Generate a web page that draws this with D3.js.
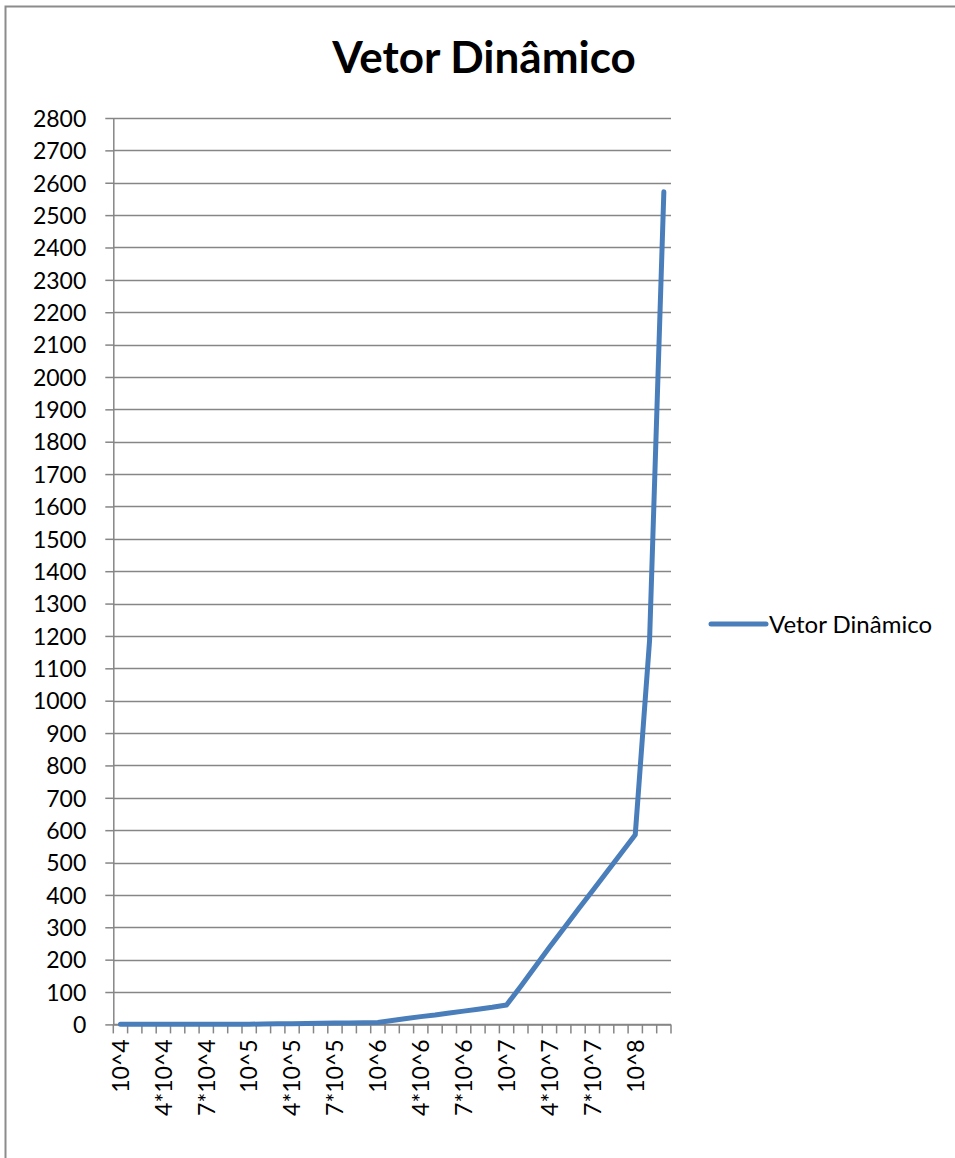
<!DOCTYPE html>
<html>
<head>
<meta charset="utf-8">
<script src="https://cdn.jsdelivr.net/npm/d3@7/dist/d3.min.js"></script>
<style>
  html, body { margin: 0; padding: 0; background: #fff; }
  svg { display: block; }
  text { font-family: Lato, "Open Sans", "Liberation Sans", sans-serif; fill: #000; }
</style>
</head>
<body>
<svg id="chart" width="955" height="1158"></svg>
<script>
// Input sizes (n) along the x axis
const categories = [
  "10^4", "2*10^4", "3*10^4", "4*10^4", "5*10^4", "6*10^4", "7*10^4", "8*10^4", "9*10^4",
  "10^5", "2*10^5", "3*10^5", "4*10^5", "5*10^5", "6*10^5", "7*10^5", "8*10^5", "9*10^5",
  "10^6", "2*10^6", "3*10^6", "4*10^6", "5*10^6", "6*10^6", "7*10^6", "8*10^6", "9*10^6",
  "10^7", "2*10^7", "3*10^7", "4*10^7", "5*10^7", "6*10^7", "7*10^7", "8*10^7", "9*10^7",
  "10^8", "2*10^8", "3*10^8"
];

// Measured times for the dynamic vector
const vetorDinamico = [
  0.1, 0.1, 0.2, 0.2, 0.3, 0.3, 0.4, 0.5, 0.5,
  0.6, 1.2, 1.8, 2.3, 2.9, 3.5, 4.1, 4.6, 5.2,
  5.8, 12, 18, 24, 29, 35, 41, 47, 53,
  60, 118, 178, 238, 296, 355, 412, 470, 528,
  586, 1185, 2572
];

// Category labels printed under the axis
const xTickLabels = ["10^4", "4*10^4", "7*10^4", "10^5", "4*10^5", "7*10^5", "10^6",
  "4*10^6", "7*10^6", "10^7", "4*10^7", "7*10^7", "10^8"];

// Value axis ticks
const yTicks = [0, 100, 200, 300, 400, 500, 600, 700, 800, 900, 1000, 1100, 1200, 1300,
  1400, 1500, 1600, 1700, 1800, 1900, 2000, 2100, 2200, 2300, 2400, 2500, 2600, 2700, 2800];

const title = "Vetor Dinâmico";
const seriesName = "Vetor Dinâmico";

const svg = d3.select("#chart");
const gridColor = "#868686";
const lineColor = "#4a7ebb";

// Outer chart frame (runs off the bottom/right of the page)
svg.append("rect")
  .attr("x", 5.5).attr("y", 6.5)
  .attr("width", 1000).attr("height", 1200)
  .attr("fill", "none").attr("stroke", "#8c8c8c").attr("stroke-width", 2);

const plot = { left: 113.3, right: 671, top: 118, bottom: 1024.4 };

const x = d3.scaleBand().domain(categories).range([plot.left, plot.right]).padding(0);
const y = d3.scaleLinear().domain([0, 2800]).range([plot.bottom, plot.top]);

// Horizontal gridlines
svg.append("g")
  .selectAll("line")
  .data(yTicks)
  .join("line")
  .attr("x1", plot.left).attr("x2", plot.right)
  .attr("y1", d => Math.round(y(d)) + 0.5).attr("y2", d => Math.round(y(d)) + 0.5)
  .attr("stroke", gridColor).attr("stroke-width", 1.5);

// Y axis
const yAxis = svg.append("g")
  .attr("transform", `translate(${plot.left},0)`)
  .call(d3.axisLeft(y).tickValues(yTicks).tickSize(8).tickPadding(19).tickFormat(d3.format("d")));
yAxis.select(".domain").attr("stroke", gridColor).attr("stroke-width", 1.5)
  .attr("d", `M0.5,${plot.top}V${plot.bottom}`);
yAxis.selectAll(".tick line").attr("stroke", gridColor).attr("stroke-width", 1.5);
yAxis.selectAll(".tick text")
  .attr("dy", "0.36em")
  .style("font-size", "23px")
  .style("font-family", "Lato, 'Open Sans', sans-serif")
  .attr("fill", "#000");

// X axis: baseline, band-boundary ticks and rotated labels
const xAxisG = svg.append("g").attr("transform", `translate(0,${plot.bottom})`);
xAxisG.append("line")
  .attr("x1", plot.left).attr("x2", plot.right)
  .attr("y1", 0.5).attr("y2", 0.5)
  .attr("stroke", gridColor).attr("stroke-width", 1.5);
const boundaries = categories.map(c => x(c)).concat([x.range()[1]]);
xAxisG.selectAll("line.tk")
  .data(boundaries)
  .join("line")
  .attr("class", "tk")
  .attr("x1", d => d).attr("x2", d => d)
  .attr("y1", 0).attr("y2", 9)
  .attr("stroke", gridColor).attr("stroke-width", 1.5);

const xAxis = d3.axisBottom(x).tickValues(xTickLabels).tickSize(0);
const xLab = svg.append("g")
  .attr("transform", `translate(0,${plot.bottom})`)
  .call(xAxis);
xLab.select(".domain").remove();
xLab.selectAll(".tick text")
  .attr("transform", "rotate(-90)")
  .attr("x", -15)
  .attr("y", 0)
  .attr("dy", "0.36em")
  .attr("text-anchor", "end")
  .style("font-size", "23px")
  .style("font-family", "Lato, 'Open Sans', sans-serif")
  .attr("fill", "#000");

// Series line
const line = d3.line()
  .x((d, i) => x(categories[i]) + x.bandwidth() / 2)
  .y(d => y(d));
svg.append("path")
  .datum(vetorDinamico)
  .attr("d", line)
  .attr("fill", "none")
  .attr("stroke", lineColor)
  .attr("stroke-width", 5)
  .attr("stroke-linejoin", "round")
  .attr("stroke-linecap", "round");

// Title
svg.append("text")
  .attr("x", 484).attr("y", 72.7)
  .attr("text-anchor", "middle")
  .style("font-size", "44px")
  .style("font-weight", "bold")
  .text(title);

// Legend
const legend = svg.append("g").attr("transform", "translate(711,624)");
legend.append("line")
  .attr("x1", 0).attr("x2", 55)
  .attr("y1", 0).attr("y2", 0)
  .attr("stroke", lineColor).attr("stroke-width", 5)
  .attr("stroke-linecap", "round");
legend.append("text")
  .attr("x", 58).attr("y", 0)
  .attr("dy", "0.36em")
  .style("font-size", "24px")
  .text(seriesName);
</script>
</body>
</html>
